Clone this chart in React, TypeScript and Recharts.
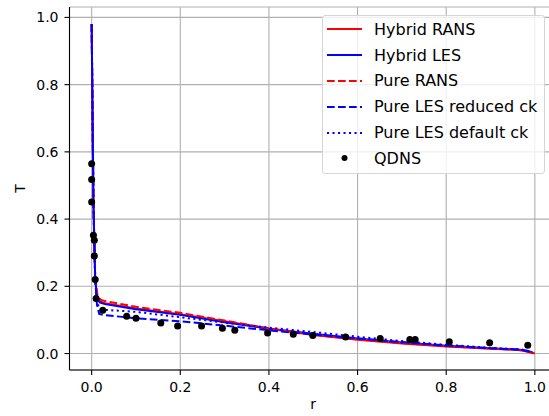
import React from 'react';
import {
  ComposedChart, Line, Scatter, XAxis, YAxis, CartesianGrid,
} from 'recharts';

// radial position r and temperature T for each run
const hybridRansR = [0, 0.004, 0.008, 0.012, 0.018, 0.03, 0.1, 0.2, 0.3, 0.4, 0.5, 0.6, 0.7, 0.8, 0.9, 0.96, 0.98, 1.0];
const hybridRansT = [0.98, 0.45, 0.22, 0.172, 0.156, 0.15, 0.134, 0.117, 0.096, 0.074, 0.055, 0.041, 0.03, 0.021, 0.014, 0.011, 0.007, 0.0];

const hybridLesR = [0, 0.004, 0.008, 0.012, 0.018, 0.03, 0.1, 0.2, 0.3, 0.4, 0.5, 0.6, 0.7, 0.8, 0.9, 0.96, 0.98, 0.995];
const hybridLesT = [0.98, 0.45, 0.22, 0.17, 0.152, 0.147, 0.132, 0.115, 0.093, 0.074, 0.059, 0.045, 0.033, 0.023, 0.016, 0.012, 0.009, 0.003];

const pureRansR = [0, 0.004, 0.008, 0.013, 0.02, 0.03, 0.1, 0.2, 0.3, 0.4, 0.5, 0.6, 0.7, 0.8, 0.9, 0.97, 1.0];
const pureRansT = [0.98, 0.45, 0.22, 0.175, 0.16, 0.156, 0.139, 0.121, 0.098, 0.075, 0.056, 0.042, 0.031, 0.022, 0.015, 0.01, 0.0];

const pureLesR = [0, 0.004, 0.008, 0.012, 0.017, 0.03, 0.1, 0.2, 0.3, 0.4, 0.5, 0.6, 0.7, 0.8, 0.9, 0.97, 0.995];
const reducedCkT = [0.98, 0.45, 0.22, 0.145, 0.118, 0.114, 0.105, 0.096, 0.083, 0.069, 0.057, 0.045, 0.034, 0.024, 0.016, 0.011, 0.003];
const defaultCkT = [0.98, 0.45, 0.22, 0.155, 0.134, 0.13, 0.124, 0.108, 0.092, 0.077, 0.064, 0.05, 0.037, 0.026, 0.017, 0.012, 0.004];

const qdnsR = [0, 0, 0, 0.004, 0.006, 0.006, 0.008, 0.01, 0.025, 0.079, 0.1, 0.156, 0.194, 0.248, 0.295, 0.323, 0.397, 0.455, 0.499, 0.573, 0.651, 0.718, 0.73, 0.807, 0.898, 0.984];
const qdnsT = [0.565, 0.518, 0.451, 0.352, 0.337, 0.29, 0.22, 0.164, 0.129, 0.111, 0.105, 0.091, 0.082, 0.082, 0.075, 0.069, 0.061, 0.057, 0.054, 0.049, 0.045, 0.042, 0.042, 0.035, 0.032, 0.025];

const xTicks = [0, 0.2, 0.4, 0.6, 0.8, 1.0];
const yTicks = [0, 0.2, 0.4, 0.6, 0.8, 1.0];

const zip = (r: number[], t: number[]) => r.map((v, i) => ({ r: v, T: t[i] }));

const series = [
  { name: 'Hybrid RANS', data: zip(hybridRansR, hybridRansT), color: '#ff0000', dash: undefined },
  { name: 'Hybrid LES', data: zip(hybridLesR, hybridLesT), color: '#0000ff', dash: undefined },
  { name: 'Pure RANS', data: zip(pureRansR, pureRansT), color: '#ff0000', dash: '7.7 3.3' },
  { name: 'Pure LES reduced ck', data: zip(pureLesR, reducedCkT), color: '#0000ff', dash: '7.7 3.3' },
  { name: 'Pure LES default ck', data: zip(pureLesR, defaultCkT), color: '#0000ff', dash: '2.1 3.4' },
];
const qdns = zip(qdnsR, qdnsT);

const font = 'DejaVu Sans, sans-serif';
const tickStyle = { fill: '#000', fontSize: 14, fontFamily: font };

function LegendBox() {
  return (
    <div
      style={{
        position: 'absolute', left: 322, top: 15, padding: '0.5px 7px 2px 4px',
        background: 'rgba(255,255,255,0.8)', border: '1px solid #d6d6d6', borderRadius: 3,
        fontFamily: font, fontSize: 16, color: '#000', whiteSpace: 'nowrap',
      }}
    >
      {series.map((s) => (
        <div key={s.name} style={{ display: 'flex', alignItems: 'center', height: 25.8 }}>
          <svg width={35} height={10} style={{ marginRight: 12 }}>
            <line x1={0} y1={5} x2={35} y2={5} stroke={s.color} strokeWidth={2} strokeDasharray={s.dash} />
          </svg>
          <span>{s.name}</span>
        </div>
      ))}
      <div style={{ display: 'flex', alignItems: 'center', height: 25.8 }}>
        <svg width={35} height={10} style={{ marginRight: 12 }}>
          <circle cx={17.5} cy={5} r={3} fill="#000" />
        </svg>
        <span>QDNS</span>
      </div>
    </div>
  );
}

export default function App() {
  return (
    <div style={{ position: 'absolute', left: 0, top: 0, width: 549, height: 416, overflow: 'hidden', background: '#fff' }}>
      <ComposedChart width={560} height={416} margin={{ top: 7, right: 3, left: 0, bottom: 0 }}>
        <CartesianGrid stroke="#b0b0b0" strokeWidth={1.1} />
        <XAxis
          dataKey="r" type="number" domain={[-0.05, 1.05]} ticks={xTicks} allowDataOverflow
          height={46} tickSize={5} tickMargin={7} tick={tickStyle}
          tickFormatter={(v: number) => v.toFixed(1)}
          axisLine={{ stroke: '#000', strokeWidth: 1.1 }} tickLine={{ stroke: '#000', strokeWidth: 1.1 }}
          label={{
            content: ({ viewBox }: any) => (
              <text x={viewBox.x + viewBox.width / 2} y={viewBox.y + 39} textAnchor="middle" fontSize={14} fontFamily={font} fill="#000">r</text>
            ),
          }}
        />
        <XAxis
          xAxisId="top" orientation="top" type="number" domain={[-0.05, 1.05]} allowDataOverflow
          height={0} tick={false} tickLine={false} axisLine={{ stroke: '#000', strokeWidth: 1.1 }}
        />
        <YAxis
          dataKey="T" type="number" domain={[-0.049, 1.031]} ticks={yTicks} allowDataOverflow
          width={69.5} tickSize={5} tickMargin={6} tick={tickStyle}
          tickFormatter={(v: number) => v.toFixed(1)}
          axisLine={{ stroke: '#000', strokeWidth: 1.1 }} tickLine={{ stroke: '#000', strokeWidth: 1.1 }}
          label={{
            content: ({ viewBox }: any) => {
              const x = viewBox.x + 25;
              const y = viewBox.y + viewBox.height / 2;
              return (
                <text x={x} y={y} transform={`rotate(-90 ${x} ${y})`} textAnchor="middle" fontSize={14} fontFamily={font} fill="#000">T</text>
              );
            },
          }}
        />
        {series.map((s) => (
          <Line
            key={s.name} name={s.name} data={s.data} dataKey="T" type="linear"
            stroke={s.color} strokeWidth={2} strokeDasharray={s.dash}
            dot={false} activeDot={false} isAnimationActive={false}
          />
        ))}
        <Scatter
          name="QDNS" data={qdns} dataKey="T" fill="#000" isAnimationActive={false}
          shape={(p: any) => <circle cx={p.cx} cy={p.cy} r={3.5} fill="#000" />}
        />
      </ComposedChart>
      <LegendBox />
    </div>
  );
}
